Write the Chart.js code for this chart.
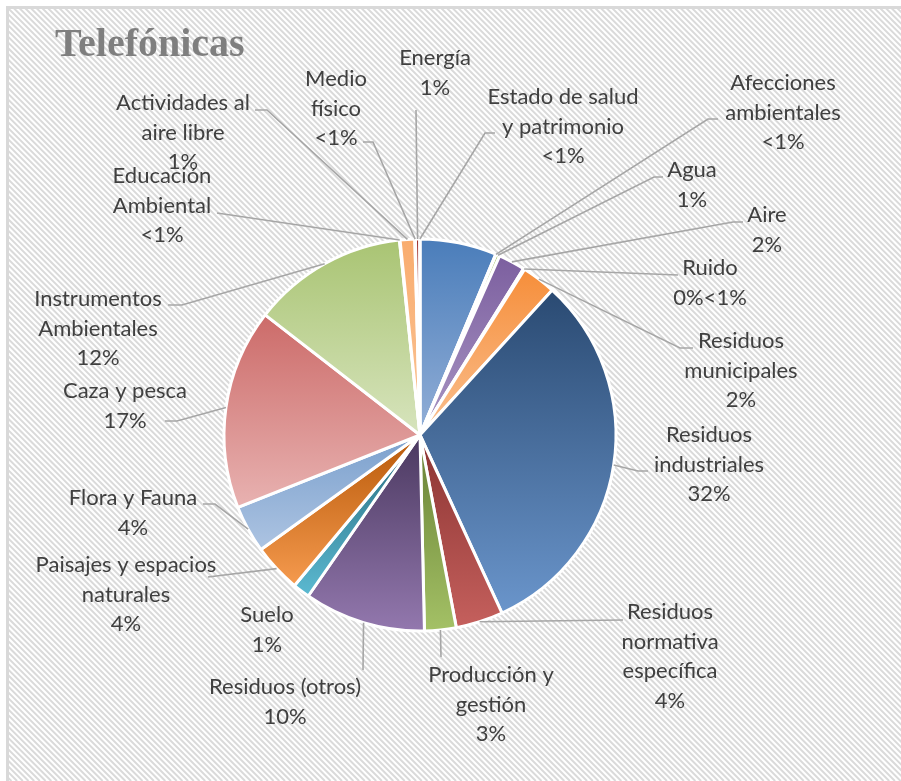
<!DOCTYPE html>
<html>
<head>
<meta charset="utf-8">
<script src="https://cdn.jsdelivr.net/npm/chart.js@4.4.0/dist/chart.umd.min.js"></script>
<style>
  html, body { margin: 0; padding: 0; background: #fff; }
  canvas { display: block; }
</style>
</head>
<body>
<canvas id="pieChart" width="901" height="781"></canvas>
<script>
// slices, clockwise from 12 o'clock (first slice has no data label in the original)
const categories = [
    '', 'Afecciones ambientales', 'Agua', 'Aire', 'Ruido', 'Residuos municipales',
    'Residuos industriales', 'Residuos normativa específica', 'Producción y gestión',
    'Residuos (otros)', 'Suelo', 'Paisajes y espacios naturales', 'Flora y Fauna',
    'Caza y pesca', 'Instrumentos Ambientales', 'Educación Ambiental',
    'Actividades al aire libre', 'Medio físico', 'Energía', 'Estado de salud y patrimonio'
]
const values = [6.3, 0.05, 0.3, 2.2, 0.1, 2.8, 31.3, 3.9, 2.6, 10.0, 1.4, 4.0, 3.9, 16.5, 12.8, 0.05, 1.2, 0.05, 0.35, 0.02]
const pctLabels = ['', '<1%', '1%', '2%', '0%<1%', '2%', '32%', '4%', '3%', '10%', '1%', '4%', '4%', '17%', '12%', '<1%', '1%', '<1%', '1%', '<1%']

// gradient top -> bottom for each slice
const sliceColors = [
    ['#4A7DBA', '#93AFD7'], ['#C0504D', '#D99694'], ['#9BBB59', '#C3D69B'], ['#7C5F9F', '#A996C4'],
    ['#4BACC6', '#93CDDD'], ['#F68E3A', '#FAC090'], ['#2A4A72', '#6A95CB'], ['#8A3331', '#C5605D'],
    ['#667F33', '#A4C166'], ['#4A385F', '#9378AE'], ['#276A7C', '#5BB9D1'], ['#B85909', '#F59A4E'],
    ['#7BA0CD', '#ADC4E2'], ['#CC6B69', '#E8B2B1'], ['#A9C473', '#D7E4BD'], ['#B3A2C7', '#CCC1DA'],
    ['#F9AC6E', '#FAC598'], ['#93CDDD', '#B7DEE8'], ['#A0302C', '#B0413D'], ['#2A4A72', '#2A4A72']
]

// where each data label sits; words = words per line of the name, leader = points from label toward slice
const labelLayout = [
    null,
    {x: 783, y: 83, words: [1, 1], leader: [[718, 119], [708, 119]]},
    {x: 692, y: 170, words: [1], leader: [[663, 177], [654, 177]]},
    {x: 767, y: 215, words: [1], leader: [[743, 222], [733, 222]]},
    {x: 710, y: 268, words: [1], leader: [[678, 275]]},
    {x: 741, y: 341, words: [1, 1], leader: [[693, 348], [680, 348]]},
    {x: 709, y: 435, words: [1, 1], leader: [[648, 471], [638, 471]]},
    {x: 670, y: 612, words: [1, 1, 1], leader: [[623, 620]]},
    {x: 491, y: 675, words: [2, 1], leader: [[441, 657]]},
    {x: 285, y: 687, words: [2], leader: [[363, 670]]},
    {x: 267, y: 615, words: [1], leader: null},
    {x: 126, y: 565, words: [3, 1], leader: [[208, 577]]},
    {x: 133, y: 498, words: [3], leader: [[203, 504], [215, 504]]},
    {x: 125, y: 391, words: [3], leader: [[165, 421], [177, 421]]},
    {x: 98, y: 299, words: [1, 1], leader: [[168, 305], [182, 305]]},
    {x: 162, y: 176, words: [1, 1], leader: [[217, 213]]},
    {x: 183, y: 103, words: [2, 2], leader: [[255, 110], [267, 110]]},
    {x: 336, y: 79, words: [1, 1], leader: [[363, 142], [373, 142]]},
    {x: 435, y: 58, words: [1], leader: [[416, 110]]},
    {x: 563, y: 97, words: [3, 2], leader: [[495, 133], [485, 133]]}
]
const LINE_H = 29.5

const hatchBackground = {
    id: 'hatchBackground',
    beforeDraw(chart) {
        const {ctx, width, height} = chart
        ctx.save()
        ctx.fillStyle = '#fff'
        ctx.fillRect(0, 0, width, height)
        ctx.beginPath()
        ctx.rect(9, 9, width - 9, height - 9)
        ctx.clip()
        ctx.strokeStyle = '#DADADA'
        ctx.lineWidth = 2
        ctx.beginPath()
        for (let k = -height; k < width; k += 5.7) {
            ctx.moveTo(k, 0)
            ctx.lineTo(k + height, height)
        }
        ctx.stroke()
        ctx.restore()
        ctx.save()
        ctx.strokeStyle = '#D9D9D9'
        ctx.lineWidth = 3
        ctx.beginPath()
        ctx.moveTo(7.5, height)
        ctx.lineTo(7.5, 7.5)
        ctx.lineTo(width, 7.5)
        ctx.stroke()
        ctx.restore()
    }
}

const sliceGradients = {
    id: 'sliceGradients',
    beforeDatasetsDraw(chart) {
        const {ctx} = chart
        chart.getDatasetMeta(0).data.forEach((arc, i) => {
            const {x, y, startAngle, endAngle, outerRadius} = arc
            const ys = [y, y + outerRadius * Math.sin(startAngle), y + outerRadius * Math.sin(endAngle)]
            for (let k = -1; k <= 2; k++) {
                const up = -Math.PI / 2 + 2 * Math.PI * k
                const down = Math.PI / 2 + 2 * Math.PI * k
                if (up > startAngle && up < endAngle) ys.push(y - outerRadius)
                if (down > startAngle && down < endAngle) ys.push(y + outerRadius)
            }
            const y0 = Math.min(...ys), y1 = Math.max(...ys)
            const g = ctx.createLinearGradient(0, y0, 0, y1 + 0.01)
            g.addColorStop(0, sliceColors[i][0])
            g.addColorStop(1, sliceColors[i][1])
            arc.options.backgroundColor = g
        })
    }
}

const calloutLabels = {
    id: 'calloutLabels',
    afterDatasetsDraw(chart) {
        const {ctx} = chart
        const arcs = chart.getDatasetMeta(0).data
        ctx.save()
        ctx.strokeStyle = '#A6A6A6'
        ctx.lineWidth = 1.6
        labelLayout.forEach((lay, i) => {
            if (!lay || !lay.leader) return
            const arc = arcs[i]
            const mid = (arc.startAngle + arc.endAngle) / 2
            ctx.beginPath()
            lay.leader.forEach(([lx, ly], j) => j ? ctx.lineTo(lx, ly) : ctx.moveTo(lx, ly))
            ctx.lineTo(arc.x + arc.outerRadius * Math.cos(mid), arc.y + arc.outerRadius * Math.sin(mid))
            ctx.stroke()
        })
        ctx.fillStyle = '#404040'
        ctx.font = '22px Lato'
        ctx.textAlign = 'center'
        ctx.textBaseline = 'middle'
        labelLayout.forEach((lay, i) => {
            if (!lay) return
            const words = categories[i].split(' ')
            const lines = []
            let w = 0
            lay.words.forEach(n => { lines.push(words.slice(w, w + n).join(' ')); w += n })
            lines.push(pctLabels[i])
            lines.forEach((t, j) => ctx.fillText(t, lay.x, lay.y + j * LINE_H))
        })
        ctx.restore()
    }
}

function drawChart() {
    new Chart('pieChart', {
        type: 'pie',
        data: {
            labels: categories,
            datasets: [{
                data: values,
                backgroundColor: sliceColors.map(c => c[0]),
                borderColor: '#ffffff',
                borderWidth: 3,
                radius: 196
            }]
        },
        options: {
            responsive: false,
            animation: false,
            layout: {
                padding: {left: 55, right: 116, top: 8, bottom: 0}
            },
            plugins: {
                legend: {display: false},
                tooltip: {enabled: false},
                title: {
                    display: true,
                    text: 'Telefónicas',
                    align: 'start',
                    color: '#7F7F7F',
                    font: {family: "'Liberation Serif'", size: 40, weight: 'bold'},
                    padding: {top: 14, bottom: 19}
                }
            }
        },
        plugins: [hatchBackground, sliceGradients, calloutLabels]
    })
}

Promise.all([
    document.fonts.load('22px Lato'),
    document.fonts.load("bold 40px 'Liberation Serif'")
]).then(drawChart, drawChart)
</script>
</body>
</html>
